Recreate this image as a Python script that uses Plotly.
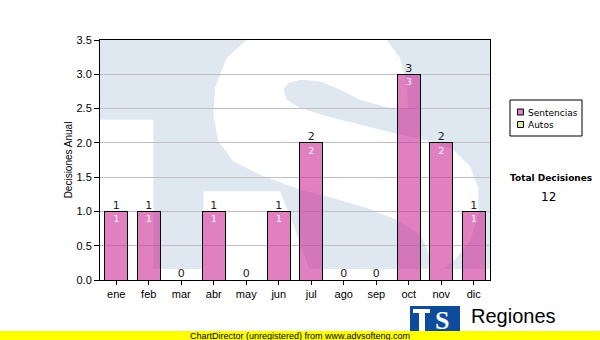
import plotly.graph_objects as go

months = ["ene", "feb", "mar", "abr", "may", "jun", "jul", "ago", "sep", "oct", "nov", "dic"]
sentencias = [1, 1, 0, 1, 0, 1, 2, 0, 0, 3, 2, 1]
autos = [0, 0, 0, 0, 0, 0, 0, 0, 0, 0, 0, 0]
totals = [s + a for s, a in zip(sentencias, autos)]
y_ticks = [0.0, 0.5, 1.0, 1.5, 2.0, 2.5, 3.0, 3.5]
series_names = ["Sentencias", "Autos"]
series_colors = ["rgba(203,43,150,0.6)", "#d4ee9e"]
total_decisiones = sum(totals)

# plot area in pixels: x 100..490, y 40..280
L, R, T, B = 100, 490, 40, 280
W, H = R - L, B - T


def px(x):
    return (x - L) / W


def pyr(y):
    return (B - y) / H


def py(y):
    return min(1.0, max(0.0, pyr(y)))


def sc(pts):
    # watermark outline points, in 3x-scaled pixel coords from origin (100,38)
    d = ""
    for i, (sx, sy) in enumerate(pts):
        x = 100 + sx / 3.0
        y = 38 + sy / 3.0
        d += ("M" if i == 0 else "L") + f"{px(x):.4f},{py(y):.4f} "
    return d + "Z"


def rect(x0, y0, x1, y1, fill, layer="above", line=None):
    return dict(type="rect", xref="paper", yref="paper", x0=px(x0), x1=px(x1), y0=pyr(y1), y1=pyr(y0),
                fillcolor=fill, line=line or dict(width=0), layer=layer)


WM = "#dfe8f1"
shapes = []
shapes.append(dict(type="rect", xref="paper", yref="paper", x0=0, x1=1, y0=0, y1=1,
                   fillcolor=WM, line=dict(width=0), layer="below"))
shapes.append(dict(type="rect", xref="paper", yref="paper", x0=0, x1=px(153.3), y0=0, y1=py(119.7),
                   fillcolor="white", line=dict(width=0), layer="below"))
shapes.append(dict(type="rect", xref="paper", yref="paper", x0=0, x1=1, y0=0, y1=py(269),
                   fillcolor="white", line=dict(width=0), layer="below"))
s_main = [(440, 0), (860, 0), (900, 60), (920, 140), (925, 210), (900, 215), (850, 205), (780, 185),
          (720, 155), (660, 130), (600, 125), (565, 135), (550, 155), (560, 185), (600, 210), (680, 235),
          (800, 265), (900, 290), (990, 310), (1060, 335), (1110, 385), (1135, 450), (1135, 530),
          (1110, 610), (1060, 670), (1020, 700), (990, 700), (985, 640), (960, 590), (900, 550),
          (800, 510), (700, 480), (600, 455), (480, 410), (400, 370), (355, 310), (340, 230),
          (345, 150), (380, 60)]
shapes.append(dict(type="path", xref="paper", yref="paper", path=sc(s_main),
                   fillcolor="white", line=dict(width=0), layer="below"))
s_term = [(310, 460), (540, 460), (580, 560), (630, 700), (310, 700)]
shapes.append(dict(type="path", xref="paper", yref="paper", path=sc(s_term),
                   fillcolor="white", line=dict(width=0), layer="below"))

# legend box (drawn by hand to match the compact ChartDirector legend)
shapes.append(rect(510, 100, 582, 136, "white", line=dict(color="black", width=1)))
legend_rows = [112.5, 125.0]
for yc, col in zip(legend_rows, series_colors):
    shapes.append(rect(517.5, yc - 3.5, 523.5, yc + 2.5, col, line=dict(color="black", width=1)))

# logo bottom right
LOGO = "#0d4c9a"
shapes.append(rect(410, 306, 460, 331, LOGO))
shapes.append(rect(413, 309, 430, 313, "white"))
shapes.append(rect(419, 309, 425, 331, "white"))
# yellow banner
shapes.append(rect(0, 331, 600, 340, "#ffff00"))

fig = go.Figure()
fig.add_trace(go.Bar(
    x=months, y=sentencias, name=series_names[0], showlegend=False,
    marker=dict(color=series_colors[0], line=dict(color="black", width=1)),
    text=[str(v) if v else "" for v in sentencias], textposition="inside", insidetextanchor="end",
    textfont=dict(color="white", size=9, family="DejaVu Sans"), constraintext="none",
    hoverinfo="skip",
))
fig.add_trace(go.Bar(
    x=months, y=autos, name=series_names[1], showlegend=False,
    marker=dict(color=series_colors[1], line=dict(color="black", width=1)),
    hoverinfo="skip",
))
fig.add_trace(go.Scatter(
    x=months, y=totals, mode="text", text=[str(v) for v in totals], textposition="top center",
    textfont=dict(color="#2a1a22", size=11, family="DejaVu Sans"), showlegend=False, hoverinfo="skip",
))


def ann(x, y, text, size, family="DejaVu Sans", color="black", xanchor="center"):
    return dict(xref="paper", yref="paper", x=px(x), y=pyr(y), text=text, showarrow=False,
                xanchor=xanchor, yanchor="middle", font=dict(family=family, size=size, color=color))


annotations = [
    ann(551, 178, "<b>Total Decisiones</b>", 9),
    ann(548, 196.5, str(total_decisiones), 12),
    ann(300, 335.5, "ChartDirector (unregistered) from www.advsofteng.com", 9, family="Liberation Sans"),
    ann(469, 315.5, "Regiones", 20, family="Liberation Sans", xanchor="left"),
    ann(442, 320, "<b>S</b>", 26, family="Liberation Serif", color="white"),
]
for yc, name in zip(legend_rows, series_names):
    annotations.append(ann(526, yc, name, 9, xanchor="left"))

fig.update_layout(
    width=600, height=340,
    margin=dict(l=L, r=600 - R, t=T, b=340 - B, autoexpand=False),
    paper_bgcolor="white", plot_bgcolor="white",
    barmode="stack", bargap=0.29,
    showlegend=False,
    shapes=shapes, annotations=annotations,
    font=dict(family="Liberation Sans", size=11, color="black"),
)
fig.update_xaxes(showline=True, linecolor="black", linewidth=1, mirror=True,
                 ticks="outside", ticklen=4, tickcolor="black", showgrid=False,
                 tickfont=dict(size=11), range=[-0.5, 11.5])
fig.update_yaxes(showline=True, linecolor="black", linewidth=1, mirror=True,
                 ticks="outside", ticklen=5, tickcolor="black",
                 range=[0, 3.5], tickvals=y_ticks, ticktext=[f"{v:.1f}" for v in y_ticks],
                 showgrid=True, gridcolor="#c0c0c0", gridwidth=1, zeroline=False,
                 tickfont=dict(size=11),
                 title=dict(text="Decisiones Anual", font=dict(size=10), standoff=2))

fig.write_html("out.html")
